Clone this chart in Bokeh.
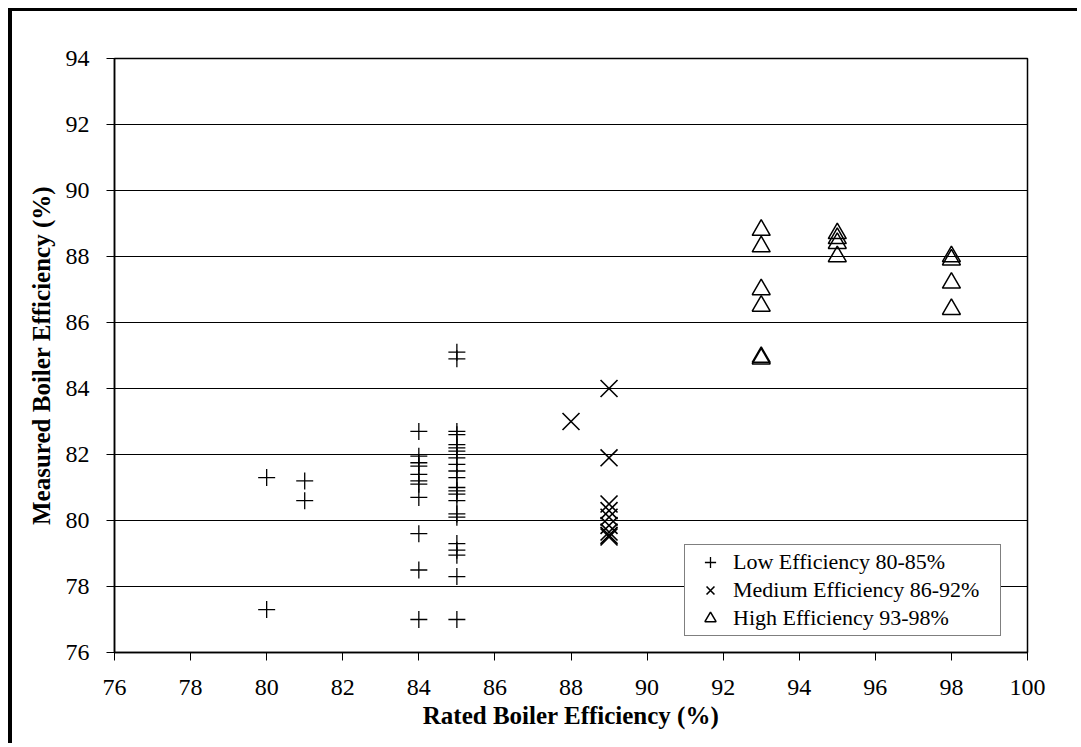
from bokeh.plotting import figure
from bokeh.models import FixedTicker, Legend, LegendItem
from bokeh.embed import file_html
from bokeh.resources import INLINE

# Data
low_x = [80, 80, 81, 81,
         84, 84, 84, 84, 84, 84, 84, 84, 84, 84, 84,
         85, 85, 85, 85, 85, 85, 85, 85, 85, 85, 85, 85, 85, 85, 85, 85, 85, 85, 85, 85, 85, 85]
low_y = [81.3, 77.3, 81.2, 80.6,
         82.7, 81.95, 81.75, 81.65, 81.4, 81.2, 81.1, 80.7, 79.6, 78.5, 77.0,
         85.1, 84.9, 82.7, 82.6, 82.3, 82.2, 82.1, 81.9, 81.7, 81.5, 81.3, 81.0, 80.9, 80.8,
         80.6, 80.2, 80.1, 79.3, 79.1, 78.95, 78.3, 77.0]

med_x = [88, 89, 89, 89, 89, 89, 89, 89, 89, 89]
med_y = [83.0, 84.0, 81.9, 80.5, 80.3, 80.1, 79.85, 79.65, 79.55, 79.5]

high_x = [93, 93, 93, 93, 93, 93, 95, 95, 95, 95, 98, 98, 98, 98]
high_y = [88.8, 88.3, 87.0, 86.5, 84.95, 84.9, 88.7, 88.55, 88.4, 88.0, 88.0, 87.9, 87.2, 86.4]

x_ticks = list(range(76, 101, 2))
y_ticks = list(range(76, 95, 2))

labels = ["Low Efficiency 80-85%", "Medium Efficiency 86-92%", "High Efficiency 93-98%"]

FONT = "Liberation Serif"

p = figure(width=1069, height=735, output_backend="svg", toolbar_location=None,
           x_range=(76, 100), y_range=(76, 94),
           min_border_left=102, min_border_right=54, min_border_top=47, min_border_bottom=94)
p.styles = {"border-top": "3px solid black", "border-left": "4px solid black",
            "margin-left": "8px", "margin-top": "8px"}

p.background_fill_color = "white"
p.border_fill_color = "white"
p.outline_line_color = "black"
p.outline_line_width = 1.5

p.xgrid.visible = False
p.ygrid.grid_line_color = "black"
p.ygrid.grid_line_width = 1
p.ygrid.ticker = FixedTicker(ticks=y_ticks)

for ax in (p.xaxis[0], p.yaxis[0]):
    ax.axis_line_color = "black"
    ax.axis_line_width = 1.5
    ax.major_tick_line_color = "black"
    ax.major_tick_in = 0
    ax.major_tick_out = 8
    ax.minor_tick_line_color = None
    ax.major_label_text_font = FONT
    ax.major_label_text_font_size = "24px"
    ax.major_label_text_color = "black"
    ax.axis_label_text_font = FONT
    ax.axis_label_text_font_size = "25px"
    ax.axis_label_text_font_style = "bold"
    ax.axis_label_text_color = "black"

p.xaxis.ticker = FixedTicker(ticks=x_ticks)
p.yaxis.ticker = FixedTicker(ticks=y_ticks)
p.xaxis.axis_label = "Rated Boiler Efficiency (%)"
p.yaxis.axis_label = "Measured Boiler Efficiency (%)"
p.xaxis.major_label_standoff = 19
p.yaxis.major_label_standoff = 17
p.xaxis.axis_label_standoff = 4
p.yaxis.axis_label_standoff = 8

r_low = p.scatter(low_x, low_y, marker="cross", size=17, line_color="black", line_width=1.3)
r_med = p.scatter(med_x, med_y, marker="x", size=24, line_color="black", line_width=1.6)
r_high = p.scatter(high_x, high_y, marker="triangle", size=18, line_color="black",
                   fill_color=None, line_width=1.5)

legend = Legend(items=[LegendItem(label=labels[0], renderers=[r_low]),
                       LegendItem(label=labels[1], renderers=[r_med]),
                       LegendItem(label=labels[2], renderers=[r_high])],
                location=(570, 16))
legend.label_text_font = FONT
legend.label_text_font_size = "22px"
legend.label_text_color = "black"
legend.border_line_color = "black"
legend.border_line_width = 1
legend.background_fill_alpha = 1
legend.padding = 3
legend.spacing = 0
legend.label_height = 28
legend.glyph_height = 28
legend.glyph_width = 44
legend.label_width = 264
legend.margin = 0
legend.label_standoff = 1
p.add_layout(legend, "center")

open("out.html", "w").write(file_html(p, INLINE))
